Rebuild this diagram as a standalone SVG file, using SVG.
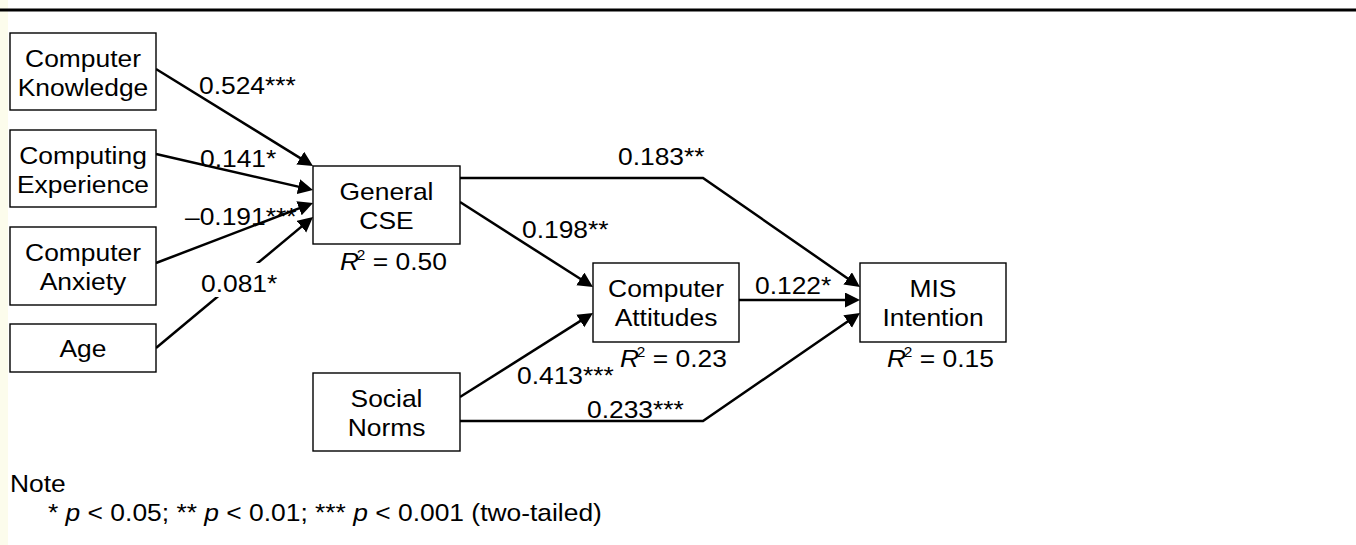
<svg xmlns="http://www.w3.org/2000/svg" width="1356" height="545" viewBox="0 0 1356 545">
<defs>
<style>
.bg{fill:#ffffff}
.node rect{fill:#ffffff;stroke:#000;stroke-width:1.4}
text{font-family:"Liberation Sans",Arial,sans-serif;font-size:24px;fill:#000}
.c{text-anchor:middle}
.conn path{fill:none;stroke:#000;stroke-width:2.5}
.it{font-style:italic}
</style>
<marker id="ah" markerWidth="16" markerHeight="16" refX="11" refY="7.5" orient="auto" markerUnits="userSpaceOnUse">
<path d="M0,0 L15,7.5 L0,15 z" fill="#000"/>
</marker>
</defs>
<rect class="bg" x="0" y="0" width="1356" height="545"/>
<rect x="0" y="0" width="8" height="545" fill="#fcfcec"/>
<line x1="0" y1="10" x2="1356" y2="10" stroke="#000" stroke-width="3"/>

<g id="connectors" class="conn">
<path d="M156,69 L309.6,163.9" marker-end="url(#ah)"/>
<path d="M156,154 L309.1,189.1" marker-end="url(#ah)"/>
<path d="M156,263 L309.3,204.4" marker-end="url(#ah)"/>
<path d="M156,348 L309.9,219.6" marker-end="url(#ah)"/>
<path d="M460,202 L589.6,284.8" marker-end="url(#ah)"/>
<path d="M460,397 L589.6,315.1" marker-end="url(#ah)"/>
<path d="M739,300 L856,300" marker-end="url(#ah)"/>
<path d="M460,178 L703,178 L856.7,284.7" marker-end="url(#ah)"/>
<path d="M460,421 L703,421 L856.7,315.3" marker-end="url(#ah)"/>
</g>

<g id="edge-labels">
<text transform="translate(199,0) scale(1.1,1)" x="0" y="94">0.524***</text>
<text transform="translate(200,0) scale(1.1,1)" x="0" y="167">0.141*</text>
<text transform="translate(185,0) scale(1.1,1)" x="0" y="225">–0.191***</text>
<rect x="199" y="263" width="92" height="34" fill="#ffffff"/>
<text transform="translate(201,0) scale(1.1,1)" x="0" y="292">0.081*</text>
<text transform="translate(618,0) scale(1.1,1)" x="0" y="165">0.183**</text>
<text transform="translate(522,0) scale(1.1,1)" x="0" y="238">0.198**</text>
<text transform="translate(755,0) scale(1.1,1)" x="0" y="294">0.122*</text>
<text transform="translate(517,0) scale(1.1,1)" x="0" y="384">0.413***</text>
<text transform="translate(587,0) scale(1.1,1)" x="0" y="418">0.233***</text>
</g>

<g id="computer-knowledge" class="node">
<rect x="10" y="33" width="146" height="77"/>
<text class="c" transform="translate(83,0) scale(1.1,1)"><tspan x="0" y="67">Computer</tspan><tspan x="0" y="96">Knowledge</tspan></text>
</g>
<g id="computing-experience" class="node">
<rect x="10" y="130" width="146" height="77"/>
<text class="c" transform="translate(83,0) scale(1.1,1)"><tspan x="0" y="164">Computing</tspan><tspan x="0" y="193">Experience</tspan></text>
</g>
<g id="computer-anxiety" class="node">
<rect x="10" y="227" width="146" height="78"/>
<text class="c" transform="translate(83,0) scale(1.1,1)"><tspan x="0" y="261">Computer</tspan><tspan x="0" y="290">Anxiety</tspan></text>
</g>
<g id="age" class="node">
<rect x="10" y="324" width="146" height="48"/>
<text class="c" transform="translate(83,0) scale(1.1,1)" x="0" y="357">Age</text>
</g>
<g id="general-cse" class="node">
<rect x="313" y="166" width="147" height="78"/>
<text class="c" transform="translate(386.5,0) scale(1.1,1)"><tspan x="0" y="200">General</tspan><tspan x="0" y="229">CSE</tspan></text>
<text transform="translate(340,0) scale(1.1,1)" x="0" y="270"><tspan class="it">R</tspan><tspan font-size="14" dx="-2" dy="-10">2</tspan><tspan dy="10"> = 0.50</tspan></text>
</g>
<g id="computer-attitudes" class="node">
<rect x="593" y="263" width="146" height="79"/>
<text class="c" transform="translate(666,0) scale(1.1,1)"><tspan x="0" y="297">Computer</tspan><tspan x="0" y="326">Attitudes</tspan></text>
<text transform="translate(620,0) scale(1.1,1)" x="0" y="367"><tspan class="it">R</tspan><tspan font-size="14" dx="-2" dy="-10">2</tspan><tspan dy="10"> = 0.23</tspan></text>
</g>
<g id="mis-intention" class="node">
<rect x="860" y="263" width="146" height="79"/>
<text class="c" transform="translate(933,0) scale(1.1,1)"><tspan x="0" y="297">MIS</tspan><tspan x="0" y="326">Intention</tspan></text>
<text transform="translate(887,0) scale(1.1,1)" x="0" y="367"><tspan class="it">R</tspan><tspan font-size="14" dx="-2" dy="-10">2</tspan><tspan dy="10"> = 0.15</tspan></text>
</g>
<g id="social-norms" class="node">
<rect x="313" y="373" width="147" height="78"/>
<text class="c" transform="translate(386.5,0) scale(1.1,1)"><tspan x="0" y="407">Social</tspan><tspan x="0" y="436">Norms</tspan></text>
</g>

<g id="note">
<text transform="translate(10,0) scale(1.1,1)" x="0" y="492">Note</text>
<text transform="translate(48,0) scale(1.1,1)" x="0" y="521">* <tspan class="it">p</tspan> &lt; 0.05; ** <tspan class="it">p</tspan> &lt; 0.01; *** <tspan class="it">p</tspan> &lt; 0.001 (two-tailed)</text>
</g>
</svg>
